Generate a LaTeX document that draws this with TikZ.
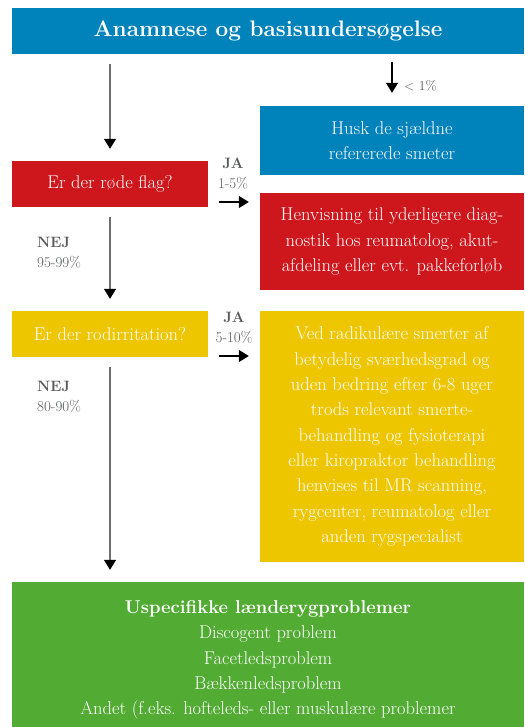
\documentclass[tikz,border=0pt]{standalone}
\usepackage{fontspec}
\usepackage{tikz}
\usetikzlibrary{arrows.meta, positioning}
\definecolor{flowblue}{HTML}{0082BA}
\definecolor{flowred}{HTML}{CD171D}
\definecolor{flowyellow}{HTML}{EEC600}
\definecolor{flowgreen}{HTML}{52AC34}
\definecolor{labgray}{HTML}{58595B}
\definecolor{stem}{HTML}{6D6E70}

\begin{document}
\begin{tikzpicture}[x=1pt, y=-1pt,
   box/.style={rectangle, inner sep=0pt, text=white, align=center,
     font=\fontsize{18.5}{25.3}\selectfont},
   lab/.style={text=labgray, inner sep=0pt, font=\fontsize{15}{20}\selectfont},
   down/.style={draw=stem, line width=1.4pt,
     -{Triangle[length=10pt, width=12pt, color=black]},
     shorten <=10pt, shorten >=12pt},
   side/.style={draw=black, line width=1.2pt,
     -{Triangle[length=10pt, width=12pt]}, shorten <=11pt, shorten >=11pt}]
 \useasboundingbox (0,0) rectangle (524,727);
 % boxes
 \node[box, fill=flowblue, minimum width=512pt, minimum height=46pt,
   font=\bfseries\fontsize{22.5}{27}\selectfont] (top) at (268,31) {Anamnese og basisundersøgelse};
 \node[box, fill=flowblue, minimum width=264pt, minimum height=69pt] (rare) at (392,140.5)
   {Husk de sjældne\\refererede smeter};
 \node[box, fill=flowred, minimum width=196pt, minimum height=46pt] (flag) at (110,184)
   {Er der røde flag?};
 \node[box, fill=flowred, minimum width=264pt, minimum height=97pt] (refer) at (392,241.5)
   {Henvisning til yderligere diag-\\nostik hos reumatolog, akut-\\afdeling eller evt. pakkeforløb};
 \node[box, fill=flowyellow, minimum width=196pt, minimum height=46pt] (root) at (110,334)
   {Er der rodirritation?};
 \node[box, fill=flowyellow, minimum width=264pt, minimum height=251pt] (radic) at (392,436.5)
   {Ved radikulære smerter af\\betydelig sværhedsgrad og\\uden bedring efter 6-8 uger\\trods relevant smerte-\\behandling og fysioterapi\\eller kiropraktor behandling\\henvises til MR scanning,\\rygcenter, reumatolog eller\\anden rygspecialist};
 \node[box, fill=flowgreen, minimum width=512pt, minimum height=156pt] (nonspec) at (268,660)
   {\textbf{Uspecifikke lænderygproblemer}\\Discogent problem\\Facetledsproblem\\Bækkenledsproblem\\Andet (f.eks. hofteleds- eller muskulære problemer};
 % labels
 \node[lab, anchor=west, font=\fontsize{13.5}{18}\selectfont] (lt1) at (404,86) {< 1\%};
 \node[lab, align=center] (ja1) at (233,174) {\textbf{JA}\\1-5\%};
 \node[lab, align=left, anchor=west] (nej1) at (37,253) {\textbf{NEJ}\\95-99\%};
 \node[lab, align=center] (ja2) at (234,328) {\textbf{JA}\\5-10\%};
 \node[lab, align=left, anchor=west] (nej2) at (37,397) {\textbf{NEJ}\\80-90\%};
 % connectors
 \coordinate (j1) at ([yshift=-18pt]flag.east);
 \coordinate (j2) at ([yshift=-22pt]root.east);
 \draw[down] (top.south -| flag) -- (flag);
 \draw[down] (flag) -- (root);
 \draw[down] (root.south) -- (root.south |- nonspec.north);
 \draw[down, draw=black, line width=1.2pt, shorten <=8pt, shorten >=13pt] (top.south -| rare) -- (rare);
 \draw[side] (j1) -- (j1 -| refer.west);
 \draw[side] (j2) -- (j2 -| radic.west);
\end{tikzpicture}
\end{document}
